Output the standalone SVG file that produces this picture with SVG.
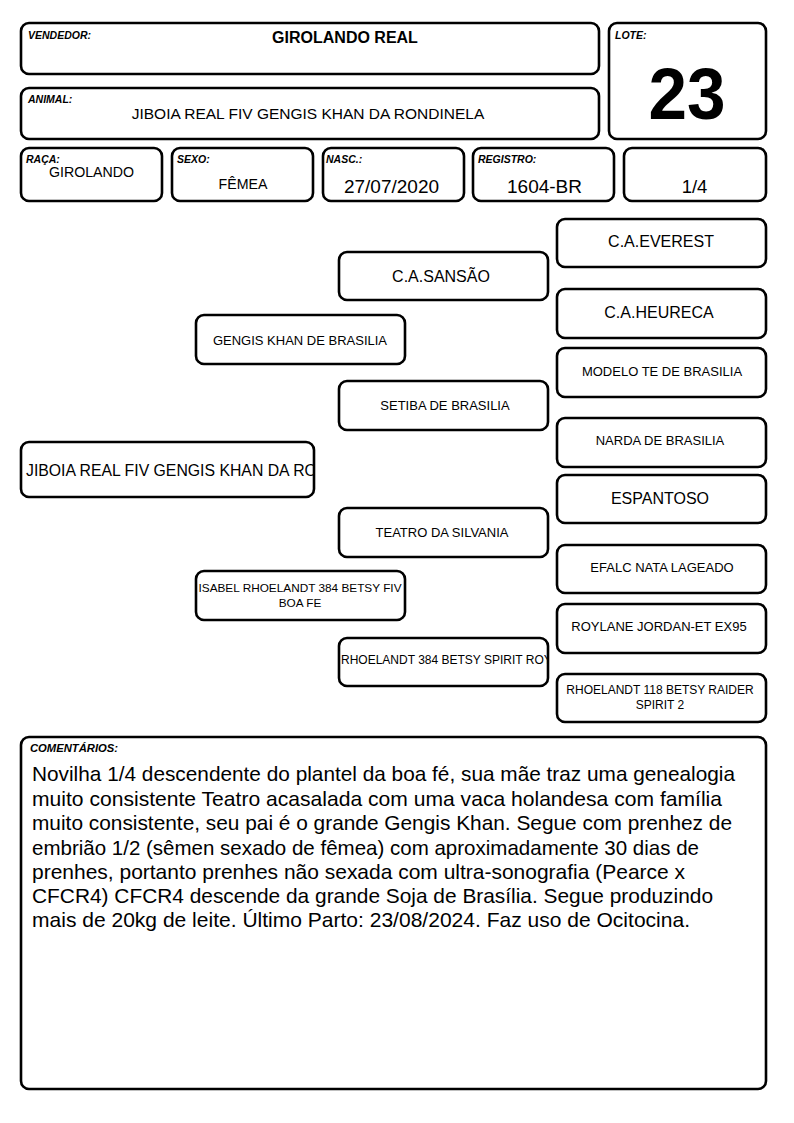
<svg xmlns="http://www.w3.org/2000/svg" width="794" height="1123" viewBox="0 0 794 1123">
<style>
.box{fill:#fff;stroke:#000;stroke-width:2.6}
.lbl{font-family:"Liberation Sans",Arial,sans-serif;font-weight:bold;font-style:italic;font-size:10.5px;fill:#000}
.t{font-family:"Liberation Sans",Arial,sans-serif;fill:#000;text-anchor:middle}
.s16{font-size:16px}
.s13{font-size:13px}
.s12{font-size:12px}
.cm{font-family:"Liberation Sans",Arial,sans-serif;font-size:21px;fill:#000}
</style>
<defs>
<clipPath id="clipMain"><rect x="21" y="442" width="294" height="56"/></clipPath>
<clipPath id="clipRho"><rect x="339" y="638" width="209" height="48"/></clipPath>
</defs>
<rect width="794" height="1123" fill="#fff"/>

<g id="vendedor">
<rect class="box" x="21" y="23" width="578" height="51" rx="8"/>
<text class="lbl" x="28" y="39">VENDEDOR:</text>
<text class="t" x="345" y="43" style="font-size:16px;font-weight:bold">GIROLANDO REAL</text>
</g>
<g id="animal">
<rect class="box" x="21" y="88" width="578" height="51" rx="8"/>
<text class="lbl" x="28" y="103">ANIMAL:</text>
<text class="t" x="308" y="119" style="font-size:15.5px">JIBOIA REAL FIV GENGIS KHAN DA RONDINELA</text>
</g>
<g id="lote">
<rect class="box" x="609" y="23" width="157" height="116" rx="8"/>
<text class="lbl" x="615" y="39">LOTE:</text>
<text class="t" x="687" y="119" style="font-size:73px;font-weight:bold" textLength="77" lengthAdjust="spacingAndGlyphs">23</text>
</g>
<g id="raca">
<rect class="box" x="21" y="148" width="141" height="53" rx="8"/>
<text class="lbl" x="26" y="163">RAÇA:</text>
<text class="t" x="91.5" y="177" style="font-size:14.2px">GIROLANDO</text>
</g>
<g id="sexo">
<rect class="box" x="172" y="148" width="141" height="53" rx="8"/>
<text class="lbl" x="177" y="163">SEXO:</text>
<text class="t" x="243" y="189" style="font-size:14.2px">FÊMEA</text>
</g>
<g id="nasc">
<rect class="box" x="323" y="148" width="141" height="53" rx="8"/>
<text class="lbl" x="326" y="163">NASC.:</text>
<text class="t" x="391.5" y="193" style="font-size:19px">27/07/2020</text>
</g>
<g id="registro">
<rect class="box" x="473" y="148" width="141" height="53" rx="8"/>
<text class="lbl" x="478" y="163">REGISTRO:</text>
<text class="t" x="544.5" y="193" style="font-size:19px">1604-BR</text>
</g>
<g id="fracao">
<rect class="box" x="624" y="148" width="142" height="53" rx="8"/>
<text class="t" x="694.5" y="193" style="font-size:18.5px">1/4</text>
</g>

<g id="connectors"></g>

<g id="n-jiboia">
<rect class="box" x="21" y="442" width="293" height="55" rx="8"/>
<text clip-path="url(#clipMain)" style="font-family:'Liberation Sans',Arial,sans-serif;font-size:15.8px;fill:#000" x="26" y="476">JIBOIA REAL FIV GENGIS KHAN DA RO</text>
</g>
<g id="n-gengis">
<rect class="box" x="196" y="315" width="209" height="49" rx="8"/>
<text class="t s13" x="300" y="345">GENGIS KHAN DE BRASILIA</text>
</g>
<g id="n-isabel">
<rect class="box" x="196" y="571" width="209" height="49" rx="8"/>
<text class="t" style="font-size:11.8px" x="300" y="592">ISABEL RHOELANDT 384 BETSY FIV</text>
<text class="t" style="font-size:11.8px" x="300" y="607">BOA FE</text>
</g>
<g id="n-sansao">
<rect class="box" x="339" y="252" width="209" height="48" rx="8"/>
<text class="t s16" x="441" y="282">C.A.SANSÃO</text>
</g>
<g id="n-setiba">
<rect class="box" x="339" y="381" width="209" height="49" rx="8"/>
<text class="t s13" x="445" y="410">SETIBA DE BRASILIA</text>
</g>
<g id="n-teatro">
<rect class="box" x="339" y="508" width="209" height="49" rx="8"/>
<text class="t s13" x="442" y="537">TEATRO DA SILVANIA</text>
</g>
<g id="n-rhoelandt384">
<rect class="box" x="339" y="638" width="209" height="48" rx="8"/>
<text clip-path="url(#clipRho)" style="font-family:'Liberation Sans',Arial,sans-serif;font-size:12px;fill:#000" x="341" y="664">RHOELANDT 384 BETSY SPIRIT ROY</text>
</g>
<g id="n-everest">
<rect class="box" x="557" y="219" width="209" height="48" rx="8"/>
<text class="t s16" x="661" y="247">C.A.EVEREST</text>
</g>
<g id="n-heureca">
<rect class="box" x="557" y="289" width="209" height="49" rx="8"/>
<text class="t s16" x="659" y="318">C.A.HEURECA</text>
</g>
<g id="n-modelo">
<rect class="box" x="557" y="348" width="209" height="49" rx="8"/>
<text class="t s13" x="662" y="376">MODELO TE DE BRASILIA</text>
</g>
<g id="n-narda">
<rect class="box" x="557" y="418" width="209" height="49" rx="8"/>
<text class="t s13" x="660" y="445">NARDA DE BRASILIA</text>
</g>
<g id="n-espantoso">
<rect class="box" x="557" y="475" width="209" height="48" rx="8"/>
<text class="t s16" x="660" y="504">ESPANTOSO</text>
</g>
<g id="n-efalc">
<rect class="box" x="557" y="545" width="209" height="48" rx="8"/>
<text class="t s13" x="662" y="572">EFALC NATA LAGEADO</text>
</g>
<g id="n-roylane">
<rect class="box" x="557" y="604" width="209" height="49" rx="8"/>
<text class="t s13" x="659" y="631">ROYLANE JORDAN-ET EX95</text>
</g>
<g id="n-rhoelandt118">
<rect class="box" x="557" y="674" width="209" height="48" rx="8"/>
<text class="t s12" x="660" y="694">RHOELANDT 118 BETSY RAIDER</text>
<text class="t s12" x="660" y="709">SPIRIT 2</text>
</g>

<g id="comentarios">
<rect class="box" x="21" y="737" width="745" height="352" rx="8"/>
<text class="lbl" x="30" y="752" style="font-size:10px" textLength="88" lengthAdjust="spacingAndGlyphs">COMENTÁRIOS:</text>
<text class="cm" x="32" y="781" textLength="703" lengthAdjust="spacingAndGlyphs">Novilha 1/4 descendente do plantel da boa fé, sua mãe traz uma genealogia</text>
<text class="cm" x="32" y="806" textLength="690" lengthAdjust="spacingAndGlyphs">muito consistente Teatro acasalada com uma vaca holandesa com família</text>
<text class="cm" x="32" y="830" textLength="700" lengthAdjust="spacingAndGlyphs">muito consistente, seu pai é o grande Gengis Khan. Segue com prenhez de</text>
<text class="cm" x="32" y="855" textLength="667" lengthAdjust="spacingAndGlyphs">embrião 1/2 (sêmen sexado de fêmea) com aproximadamente 30 dias de</text>
<text class="cm" x="32" y="879" textLength="653" lengthAdjust="spacingAndGlyphs">prenhes, portanto prenhes não sexada com ultra-sonografia (Pearce x</text>
<text class="cm" x="32" y="903" textLength="681" lengthAdjust="spacingAndGlyphs">CFCR4) CFCR4 descende da grande Soja de Brasília. Segue produzindo</text>
<text class="cm" x="32" y="927" textLength="658" lengthAdjust="spacingAndGlyphs">mais de 20kg de leite. Último Parto: 23/08/2024. Faz uso de Ocitocina.</text>
</g>
</svg>
